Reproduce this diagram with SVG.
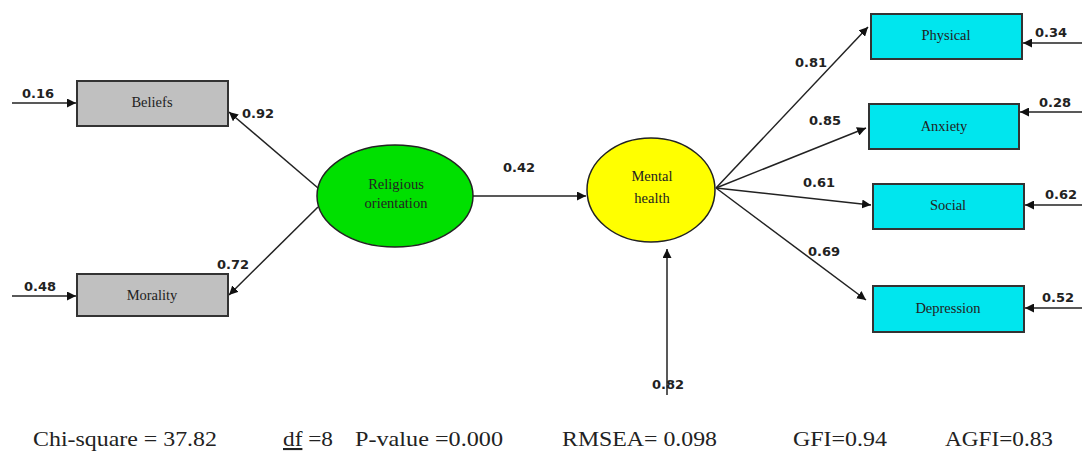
<svg xmlns="http://www.w3.org/2000/svg" width="1082" height="458" viewBox="0 0 1082 458">
<style>
.box{stroke:#333;stroke-width:2}
.grey{fill:#c0c0c0}
.cyan{fill:#00e6ee}
.lbl{font-family:"Liberation Serif",serif;font-size:14.5px;fill:#222;text-anchor:middle}
.num{font-family:"DejaVu Sans",sans-serif;font-weight:bold;font-size:13px;fill:#222}
.ln{stroke:#222;stroke-width:1.5;fill:none;marker-end:url(#ah)}
.ft{font-family:"Liberation Serif",serif;font-size:21px;fill:#222}
</style>
<defs>
<marker id="ah" viewBox="0 0 10 10" refX="10" refY="5" markerWidth="9" markerHeight="9" markerUnits="userSpaceOnUse" orient="auto">
<path d="M0,0 L10,5 L0,10 z" fill="#111"/>
</marker>
</defs>
<rect width="1082" height="458" fill="#fff"/>
<g id="connectors">
<line class="ln" x1="12" y1="103" x2="76" y2="103"/>
<line class="ln" x1="12" y1="296" x2="76" y2="296"/>
<line class="ln" x1="318" y1="188" x2="229" y2="112"/>
<line class="ln" x1="318" y1="207" x2="229" y2="295"/>
<line class="ln" x1="473" y1="196" x2="586" y2="196"/>
<line class="ln" x1="716" y1="188" x2="868" y2="27"/>
<line class="ln" x1="716" y1="188" x2="866" y2="128"/>
<line class="ln" x1="716" y1="188" x2="871" y2="205"/>
<line class="ln" x1="716" y1="188" x2="866" y2="300"/>
<line class="ln" x1="1082" y1="43" x2="1023" y2="43"/>
<line class="ln" x1="1082" y1="112" x2="1020" y2="112"/>
<line class="ln" x1="1082" y1="205" x2="1025" y2="205"/>
<line class="ln" x1="1082" y1="308" x2="1025" y2="308"/>
<line class="ln" x1="667" y1="395" x2="667" y2="249"/>
</g>
<g id="beliefs"><rect class="box grey" x="77" y="81" width="151" height="45"/><text class="lbl" x="152" y="107">Beliefs</text></g>
<g id="morality"><rect class="box grey" x="77" y="274" width="151" height="42"/><text class="lbl" x="152" y="300">Morality</text></g>
<g id="religious"><ellipse cx="395" cy="196" rx="78" ry="51" fill="#00e000" stroke="#222" stroke-width="1.5"/><text class="lbl" x="396" y="189">Religious</text><text class="lbl" x="396" y="208">orientation</text></g>
<g id="mental"><ellipse cx="651" cy="190" rx="64" ry="52" fill="#ffff00" stroke="#222" stroke-width="1.5"/><text class="lbl" x="652" y="181">Mental</text><text class="lbl" x="652" y="203">health</text></g>
<g id="physical"><rect class="box cyan" x="871" y="14" width="151" height="45"/><text class="lbl" x="946" y="40">Physical</text></g>
<g id="anxiety"><rect class="box cyan" x="869" y="104" width="150" height="45"/><text class="lbl" x="944" y="131">Anxiety</text></g>
<g id="social"><rect class="box cyan" x="873" y="184" width="151" height="45"/><text class="lbl" x="948" y="210">Social</text></g>
<g id="depression"><rect class="box cyan" x="873" y="286" width="151" height="46"/><text class="lbl" x="948" y="313">Depression</text></g>
<g id="labels">
<text class="num" x="22" y="98">0.16</text>
<text class="num" x="24" y="291">0.48</text>
<text class="num" x="242" y="118">0.92</text>
<text class="num" x="217" y="269">0.72</text>
<text class="num" x="503" y="172">0.42</text>
<text class="num" x="795" y="67">0.81</text>
<text class="num" x="809" y="125">0.85</text>
<text class="num" x="803" y="187">0.61</text>
<text class="num" x="808" y="256">0.69</text>
<text class="num" x="1035" y="37">0.34</text>
<text class="num" x="1039" y="107">0.28</text>
<text class="num" x="1045" y="199">0.62</text>
<text class="num" x="1042" y="302">0.52</text>
<text class="num" x="652" y="389">0.82</text>
</g>
<g id="footer">
<text class="ft" x="33" y="446" textLength="184" lengthAdjust="spacingAndGlyphs">Chi-square = 37.82</text>
<text class="ft" x="283" y="446" textLength="50" lengthAdjust="spacingAndGlyphs"><tspan text-decoration="underline">df</tspan> =8</text>
<text class="ft" x="355" y="446" textLength="148" lengthAdjust="spacingAndGlyphs">P-value =0.000</text>
<text class="ft" x="562" y="446" textLength="155" lengthAdjust="spacingAndGlyphs">RMSEA= 0.098</text>
<text class="ft" x="793" y="446" textLength="94" lengthAdjust="spacingAndGlyphs">GFI=0.94</text>
<text class="ft" x="945" y="446" textLength="108" lengthAdjust="spacingAndGlyphs">AGFI=0.83</text>
</g>
</svg>
